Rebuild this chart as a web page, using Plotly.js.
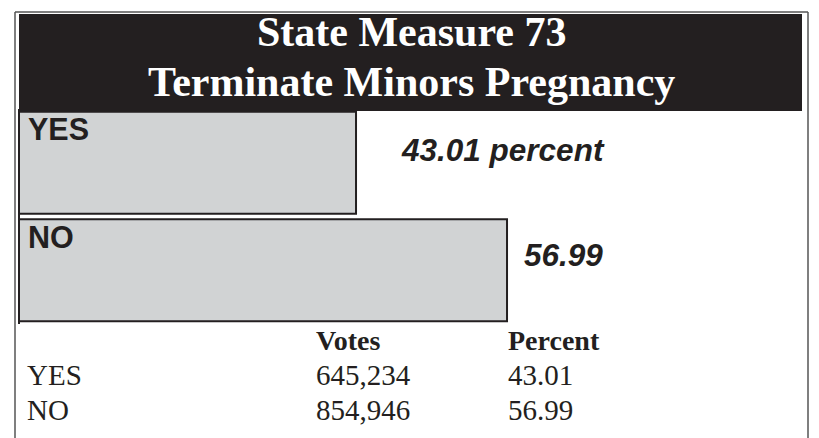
<!DOCTYPE html>
<html>
<head>
<meta charset="utf-8">
<script src="https://cdn.plot.ly/plotly-3.0.1.min.js"></script>
<style>html,body{margin:0;padding:0;background:#fff;}#chart{width:819px;height:438px;}</style>
</head>
<body>
<div id="chart"></div>
<script>
// ---- data ----
const titleLines = ["State Measure 73", "Terminate Minors Pregnancy"];
const categories = ["YES", "NO"];
const percents = [43.01, 56.99];
const votes = ["645,234", "854,946"];
const percentLabels = ["43.01 percent", "56.99"];
const tableHeaders = ["Votes", "Percent"];

const W = 819, H = 438;
const px = v => v / W;          // pixel -> paper x
const py = v => 1 - v / H;      // pixel -> paper y
const ink = "#231f20";

const trace = {
  type: "bar",
  orientation: "h",
  y: categories,
  x: percents,
  marker: { color: "#d1d3d4", line: { color: ink, width: 2 } },
  hoverinfo: "none",
  width: 0.95
};

const annotations = [];
// title lines
const titleY = [32, 82];
titleLines.forEach((t, i) => {
  annotations.push({
    text: "<b>" + t + "</b>", xref: "paper", yref: "paper",
    x: px(411), y: py(titleY[i]), xanchor: "center", yanchor: "middle",
    showarrow: false,
    font: { family: "Liberation Serif, Times New Roman, serif", size: 42, color: "#ffffff" }
  });
});
// category labels inside bars
const labelShift = [34, 33];
categories.forEach((c, i) => {
  annotations.push({
    text: "<b>" + c + "</b>", xref: "paper", yref: "y",
    x: px(26), y: c, xanchor: "left", yanchor: "middle", yshift: labelShift[i],
    showarrow: false,
    font: { family: "Liberation Sans, Arial, sans-serif", size: 30.5, color: ink }
  });
});
// percent labels next to bars
const pctXShift = [43, 15];
const pctYShift = [13, 15];
categories.forEach((c, i) => {
  annotations.push({
    text: "<b><i>" + percentLabels[i] + "</i></b>", xref: "x", yref: "y",
    x: percents[i], y: c, xanchor: "left", yanchor: "middle",
    xshift: pctXShift[i], yshift: pctYShift[i],
    showarrow: false,
    font: { family: "Liberation Sans, Arial, sans-serif", size: 31.5, color: ink }
  });
});
// table
const serif = "Liberation Serif, Times New Roman, serif";
const colX = [25, 314, 506];
const headerY = 340, rowY = [375, 410];
tableHeaders.forEach((h, j) => {
  annotations.push({
    text: "<b>" + h + "</b>", xref: "paper", yref: "paper",
    x: px(colX[j + 1]), y: py(headerY), xanchor: "left", yanchor: "middle",
    showarrow: false, font: { family: serif, size: 28, color: ink }
  });
});
categories.forEach((c, i) => {
  const cells = [c, votes[i], percents[i].toFixed(2)];
  cells.forEach((t, j) => {
    annotations.push({
      text: t, xref: "paper", yref: "paper",
      x: px(colX[j]), y: py(rowY[i]), xanchor: "left", yanchor: "middle",
      showarrow: false, font: { family: serif, size: 29, color: ink }
    });
  });
});

const shapes = [
  // outer frame (open at bottom)
  { type: "line", xref: "paper", yref: "paper", x0: px(15), x1: px(15), y0: 0, y1: py(12), line: { color: "#555", width: 1.5 } },
  { type: "line", xref: "paper", yref: "paper", x0: px(15), x1: px(808), y0: py(12), y1: py(12), line: { color: "#555", width: 1.5 } },
  { type: "line", xref: "paper", yref: "paper", x0: px(808), x1: px(808), y0: 0, y1: py(12), line: { color: "#555", width: 1.5 } },
  // black title band
  { type: "rect", xref: "paper", yref: "paper", x0: px(19), x1: px(802), y0: py(111), y1: py(14), fillcolor: ink, line: { width: 0 }, layer: "below" }
];

const layout = {
  width: W, height: H,
  margin: { l: 0, r: 0, t: 0, b: 0 },
  paper_bgcolor: "#ffffff", plot_bgcolor: "rgba(0,0,0,0)",
  showlegend: false,
  xaxis: { domain: [px(20), px(802)], range: [11.9, 84.3], showgrid: false, zeroline: false, showticklabels: false, ticks: "", fixedrange: true },
  yaxis: { domain: [py(324), py(109)], range: [1.5, -0.5], showgrid: false, zeroline: false, showticklabels: false, ticks: "",
           showline: true, linecolor: ink, linewidth: 2, fixedrange: true },
  shapes: shapes,
  annotations: annotations
};

Plotly.newPlot("chart", [trace], layout, { displayModeBar: false, staticPlot: true });
</script>
</body>
</html>
